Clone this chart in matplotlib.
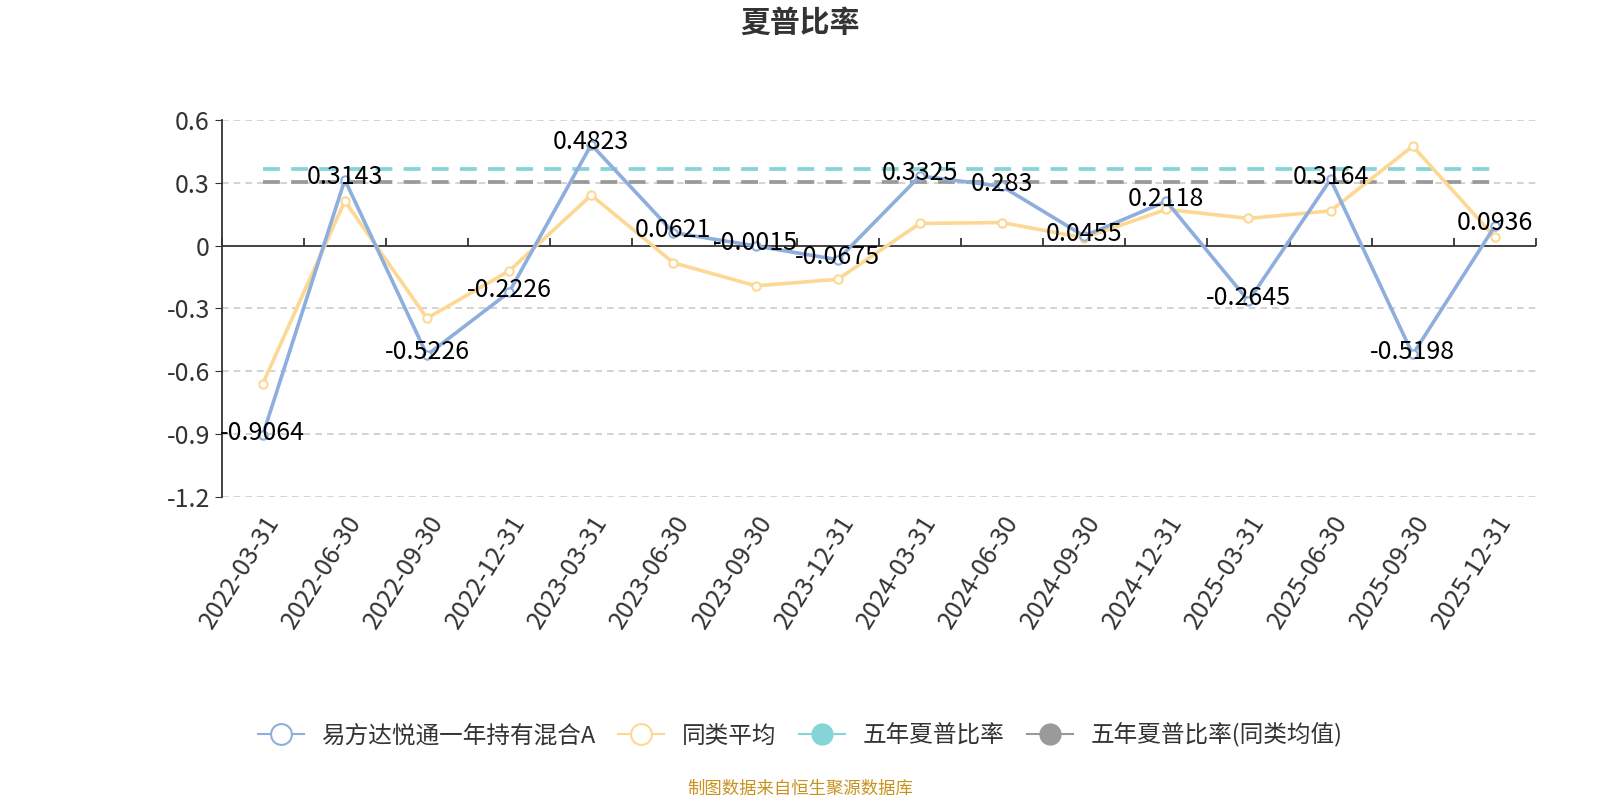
import matplotlib
matplotlib.use("Agg")
import matplotlib.pyplot as plt
import matplotlib.transforms as mtransforms
import numpy as np

plt.rcParams['font.family'] = ['Noto Sans CJK SC', 'DejaVu Sans']
plt.rcParams['axes.unicode_minus'] = False

dates = ["2022-03-31", "2022-06-30", "2022-09-30", "2022-12-31",
         "2023-03-31", "2023-06-30", "2023-09-30", "2023-12-31",
         "2024-03-31", "2024-06-30", "2024-09-30", "2024-12-31",
         "2025-03-31", "2025-06-30", "2025-09-30", "2025-12-31"]
fund = [-0.9064, 0.3143, -0.5226, -0.2226, 0.4823, 0.0621, -0.0015, -0.0675,
        0.3325, 0.283, 0.0455, 0.2118, -0.2645, 0.3164, -0.5198, 0.0936]
peer_avg = [-0.661, 0.213, -0.347, -0.121, 0.241, -0.082, -0.192, -0.161,
            0.106, 0.110, 0.037, 0.173, 0.130, 0.166, 0.475, 0.040]
five_year = 0.365
five_year_peer = 0.303

names = ["易方达悦通一年持有混合A", "同类平均", "五年夏普比率", "五年夏普比率(同类均值)"]
c_fund = "#8eaedd"
c_peer = "#fdd894"
c_five = "#85d5d8"
c_five_peer = "#9a9a9a"

fig = plt.figure(figsize=(16, 8), dpi=100)
ax = fig.add_axes([0.1385, 0.379, 0.8215, 0.471])
x = np.arange(len(dates))

ax.plot(x, [five_year] * len(x), color=c_five, lw=2.7, ls=(0, (4.5, 3)), zorder=2)
ax.plot(x, [five_year_peer] * len(x), color=c_five_peer, lw=2.7, ls=(0, (4.5, 3)), zorder=2)
ax.plot(x, peer_avg, color=c_peer, lw=2.6, marker='o', ms=6, mfc='white',
        mec=c_peer, mew=1.5, zorder=3)
ax.plot(x, fund, color=c_fund, lw=2.6, marker='o', ms=6, mfc='white',
        mec=c_fund, mew=1.5, zorder=4)

for xi, v in zip(x, fund):
    ax.text(xi, v + 0.012, f"{v:g}", ha='center', va='center', fontsize=18,
            color='black', zorder=5)

ax.set_xlim(-0.5, len(dates) - 0.5)
ax.set_ylim(-1.2, 0.6)
yt = [-1.2, -0.9, -0.6, -0.3, 0, 0.3, 0.6]
ax.set_yticks(yt)
ax.set_yticklabels(["-1.2", "-0.9", "-0.6", "-0.3", "0", "0.3", "0.6"])
for v in yt:
    if v != 0:
        ax.axhline(v, color='#cccccc', lw=1.2, ls=(0, (4, 3)), zorder=1)
ax.axhline(0, color='#333333', lw=1.3, zorder=2)

ax.set_xticks(x)
ax.set_xticklabels(dates, rotation=58, ha='right', va='top', rotation_mode='anchor',
                   fontsize=18, color='#333333')
shift = mtransforms.ScaledTranslation(-12 / 100, 0, fig.dpi_scale_trans)
for lab in ax.get_xticklabels():
    lab.set_transform(lab.get_transform() + shift)
ax.tick_params(axis='x', length=0, pad=10)
ax.tick_params(axis='y', labelsize=18, labelcolor='#333333', length=5,
               color='#333333', direction='out')

for s in ['top', 'right', 'bottom']:
    ax.spines[s].set_visible(False)
ax.spines['left'].set_color('#333333')
ax.spines['left'].set_linewidth(1.3)

# category axis line sits at y = 0
sec = ax.secondary_xaxis(2 / 3)
sec.set_xticks(np.arange(len(dates) + 1) - 0.5)
sec.set_xticklabels([])
sec.tick_params(length=6, color='#333333', direction='out', width=1.3)
sec.spines['bottom'].set_visible(False)
sec.spines['top'].set_visible(False)

fig.text(0.5, 0.972, "夏普比率", ha='center', va='center', fontsize=21.5,
         fontweight='bold', color='#333333')

handles = [
    plt.Line2D([], [], color=c_fund, lw=1.5, marker='o', ms=15, mfc='white', mec=c_fund, mew=1.5),
    plt.Line2D([], [], color=c_peer, lw=1.5, marker='o', ms=15, mfc='white', mec=c_peer, mew=1.5),
    plt.Line2D([], [], color=c_five, lw=1.5, marker='o', ms=15, mfc=c_five, mec=c_five),
    plt.Line2D([], [], color=c_five_peer, lw=1.5, marker='o', ms=15, mfc=c_five_peer, mec=c_five_peer),
]
fig.legend(handles, names, loc='center', bbox_to_anchor=(0.5, 0.081), ncol=4,
           frameon=False, fontsize=17, handlelength=1.95, handletextpad=0.75,
           columnspacing=0.95, labelcolor='#333333')

fig.text(0.5, 0.014, "制图数据来自恒生聚源数据库", ha='center', va='center',
         fontsize=12.5, color='#c8921e')

fig.savefig("out.png", dpi=100)
